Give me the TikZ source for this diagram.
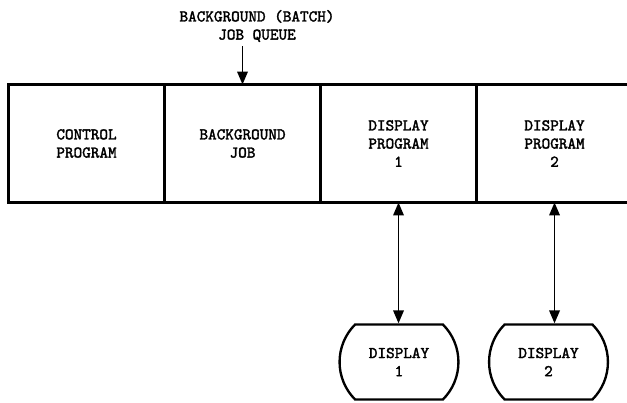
\documentclass[tikz,border=0pt]{standalone}
\usepackage{fontspec}
\setmonofont{lmmono10-regular.otf}[FakeBold=2]
\usetikzlibrary{arrows.meta,positioning,shapes.misc}

\begin{document}
\begin{tikzpicture}[
  x=0.03cm, y=-0.03cm,
  font=\ttfamily\fontsize{14}{15.5}\selectfont,
  every node/.style={align=center},
  cell/.style={draw, line width=2.2pt, outer sep=0pt,
    minimum width=4.68cm, minimum height=3.54cm},
  terminal/.style={draw, rounded rectangle, rounded rectangle arc length=90,
    line width=2pt, minimum width=3.8cm, minimum height=2.25cm},
  transfer/.style={-{Triangle[length=11pt,width=9pt]}, line width=1.4pt},
  duplex/.style={{Triangle[length=11pt,width=9pt]}-{Triangle[length=11pt,width=9pt]},
    line width=1.4pt}]
\useasboundingbox (0,0) rectangle (627,403);
\clip (0,0) rectangle (627,403);
% memory partitions
\node[cell] (control) at (86.5,143.5) {CONTROL\\PROGRAM};
\node[cell, right=0pt of control] (background) {BACKGROUND\\JOB};
\node[cell, right=0pt of background] (dprog1) {DISPLAY\\PROGRAM\\1};
\node[cell, right=0pt of dprog1] (dprog2) {DISPLAY\\PROGRAM\\2};
% queue feeding the background partition
\node (queue) at (257,26) {BACKGROUND (BATCH)\\JOB QUEUE};
\draw[transfer] (queue.south -| background.north) -- (background.north);
% display terminals
\node[terminal] (display1) at (399,362) {DISPLAY\\1};
\node[terminal] (display2) at (548.5,362) {DISPLAY\\2};
\draw[duplex] (dprog1.south) -- (dprog1.south |- display1.north);
\draw[duplex] (dprog2.south) -- (dprog2.south |- display2.north);
\end{tikzpicture}
\end{document}
